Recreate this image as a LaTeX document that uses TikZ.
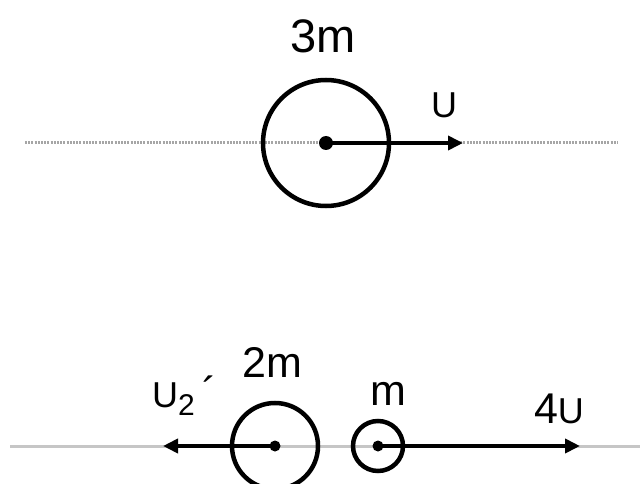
\documentclass[tikz,border=0pt]{standalone}
\usepackage{fontspec}
\setmainfont{Liberation Sans}
\usepackage{tikz}
\usetikzlibrary{arrows.meta,positioning}
\newcommand{\lblsize}{\fontsize{43}{48}\selectfont}
\newcommand{\velU}{{\fontsize{36}{40}\selectfont U}}

\begin{document}
\begin{tikzpicture}[x=1pt, y=-1pt,
    ball/.style={draw, circle, line width=4.5pt, inner sep=0pt},
    vel/.style={line width=4.5pt, -{Triangle[length=15pt,width=14pt]}},
    lbl/.style={anchor=base, inner sep=0pt, font=\lblsize}]
  \clip (0,0) rectangle (640,484);
  \fill[white] (0,0) rectangle (640,484);
  % track lines
  \draw[gray!70, line width=3pt, dash pattern=on 2pt off 1.2pt] (25,143) -- (618,143);
  \draw[gray!45, line width=3pt] (10,446) -- (640,446);
  % before: one ball
  \node[ball, minimum size=126pt] (big) at (326,143) {};
  \fill (big.center) circle (7);
  \coordinate (ua) at (463,143);
  \draw[vel] (big.center) -- (ua);
  \node[lbl, font=\fontsize{47}{52}\selectfont] (mbig) at (323,53) {3m};
  \node[lbl] (ulbl) at (444,118) {\velU};
  % after: two balls
  \node[ball, minimum size=86pt] (left) at (275,446) {};
  \node[ball, minimum size=50pt] (right) at (378,446) {};
  \fill (left.center) circle (5.5);
  \fill (right.center) circle (5.5);
  \coordinate (ub) at (163,446);
  \coordinate (uc) at (580,446);
  \draw[vel] (left.center) -- (ub);
  \draw[vel] (right.center) -- (uc);
  \node[lbl] (mleft) at (272,377) {2m};
  \node[lbl] (mright) at (388,405) {m};
  \node[lbl, anchor=base west] (ulft) at (152,407)
    {\velU\raisebox{-8pt}{\fontsize{30}{34}\selectfont 2}\,´};
  \node[lbl] (urgt) at (559,423) {4\velU};
\end{tikzpicture}
\end{document}
